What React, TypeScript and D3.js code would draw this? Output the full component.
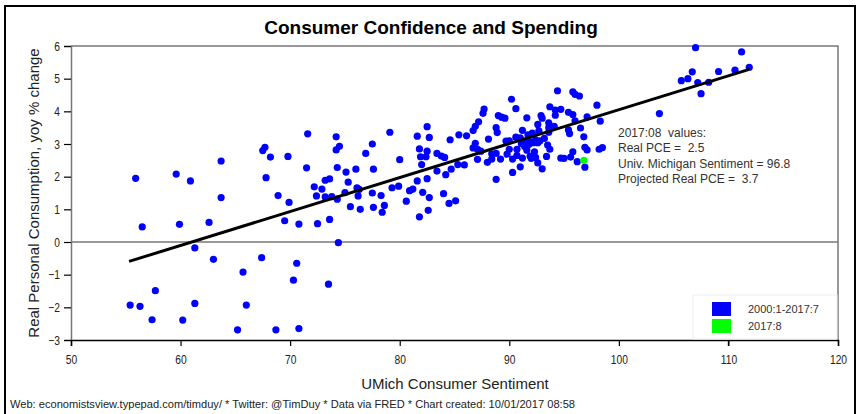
import { useEffect, useRef } from 'react'
import * as d3 from 'd3'

// UMich sentiment (x) vs real PCE yoy % change (y), 2000:1-2017:7
const sentiment = [
  55.9, 59.6, 60.9, 63.7, 67.5, 67.7, 68.2, 69.8, 71.6, 67.8, 71.5, 72.2, 72.4, 68.9, 69.9, 63.7,
  56.5, 59.9, 62.6, 69.5, 70.8, 72.5, 61.3, 63.0, 67.4, 65.7, 70.6, 70.3, 57.7, 55.4, 56.3, 61.3,
  66.0, 57.4, 60.2, 65.2, 68.7, 70.8, 73.6, 74.4, 73.5,
  72.9, 73.2, 73.6, 73.2, 73.8, 74.3, 74.2, 74.2, 74.5, 74.3, 75.1, 75.3, 75.0, 75.5, 76.0, 76.1,
  76.3, 76.2, 76.4, 76.9, 77.5, 77.6, 77.5, 77.6, 78.3, 78.6, 78.4, 79.1, 79.3, 79.9, 80.0, 80.6,
  80.9, 81.2, 81.6, 81.6, 81.8, 81.9, 82.0, 82.1, 82.5, 82.7, 82.5, 82.4, 82.5, 82.7, 82.6, 81.8,
  83.4, 83.4, 83.8, 84.1, 84.2, 84.0, 84.5, 85.1, 84.6, 85.4, 86.1, 84.7, 85.3, 85.9,
  94.4, 95.8, 96.0, 96.4, 90.2, 87.7, 87.6, 90.6, 93.7, 94.2, 94.7, 94.2, 95.4, 95.8, 97.1, 96.0,
  89.0, 89.3, 89.6, 87.2, 86.9, 86.7, 91.6, 92.9, 93.0, 88.8, 88.9, 92.6, 93.6, 93.6, 94.1, 91.2,
  92.1, 92.7, 93.6, 95.4, 95.5, 96.5, 96.8, 88.1, 90.6, 89.7, 90.0, 91.0, 91.7, 91.3, 91.8, 92.4,
  92.8, 93.2, 86.9, 86.7, 87.1, 87.4, 91.1, 91.4, 91.8, 92.2, 92.6, 93.5, 93.7, 90.0, 90.7, 91.6,
  92.3, 95.8, 96.9, 97.1, 88.4, 88.4, 88.8, 89.2, 89.8, 90.3, 90.7, 91.2, 91.9, 92.0, 92.4, 92.6,
  93.0, 93.4, 94.7, 95.0, 95.6, 96.2, 96.9, 91.0, 90.3, 88.8, 87.1, 88.0, 98.3, 98.2, 98.5,
  107.0, 111.2, 111.9, 110.6, 109.1, 106.7, 106.3, 105.7, 107.2, 108.2, 107.5, 103.7, 98.0,
]
const realPce = [
  1.95, 2.08, 1.87, 2.48, 2.8, 2.9, 2.6, 2.62, 3.31, 1.97, 2.27, 1.69, 1.41, 1.42, 1.21, 1.36,
  0.46, 0.54, 0.6, 0.65, 0.55, 0.56, -0.18, -0.53, -0.48, -0.92, -0.65, -1.17, -1.49, -1.93, -1.97, -1.88,
  -1.93, -2.38, -2.39, -2.69, -2.69, -2.65, 0.69, -0.02, -1.29,
  1.62, 1.89, 1.93, 1.38, 1.39, 1.31, 3.22, 2.82, 2.93, 2.28, 2.14, 1.83, 1.51, 1.08, 2.23, 1.66,
  1.61, 1.41, 1.0, 2.71, 3.0, 2.23, 1.5, 1.06, 1.42, 1.12, 0.91, 3.36, 1.66, 1.71, 2.52, 1.25,
  1.57, 1.62, 1.87, 3.24, 2.85, 2.61, 2.37, 1.52, 3.53, 3.2, 2.78, 2.61, 1.94, 1.36, 0.97, 0.77,
  2.71, 2.17, 2.63, 2.59, 2.06, 1.48, 1.18, 1.26, 3.13, 3.28, 3.25, 2.23, 2.37, 2.36,
  4.63, 4.6, 4.52, 4.47, 4.37, 4.07, 3.94, 4.08, 4.14, 4.04, 4.06, 3.88, 3.97, 3.9, 3.83, 3.71,
  3.87, 3.82, 3.79, 3.68, 3.54, 3.41, 3.8, 3.87, 3.79, 3.5, 3.35, 3.6, 3.65, 3.5, 3.54, 3.42,
  3.33, 3.4, 3.36, 3.43, 3.32, 3.49, 3.22, 3.15, 3.21, 3.09, 3.1, 3.19, 3.28, 3.07, 3.09, 3.13,
  3.1, 3.17, 3.02, 2.88, 2.84, 2.78, 3.01, 2.92, 2.99, 3.04, 3.04, 2.97, 2.84, 2.84, 2.84, 2.81,
  2.76, 2.76, 2.9, 2.82, 2.7, 2.54, 2.71, 2.54, 2.69, 2.54, 2.65, 2.57, 2.63, 2.56, 2.59, 2.42,
  2.24, 2.62, 2.57, 2.56, 2.6, 2.46, 2.29, 2.3, 2.13, 1.92, 2.53, 2.44, 3.7, 2.84, 2.89,
  5.95, 5.82, 5.35, 5.26, 5.22, 5.21, 5.0, 4.94, 4.88, 4.89, 4.54, 3.93, 4.19,
]

// latest month
const latest = { sentiment: 96.8, pce: 2.5, projected: 3.7 }

// fitted line
const fitIntercept = -6.34
const fitSlope = 0.1039
const fitRange = [55.3, 111.9]

const xTicks = [50, 60, 70, 80, 90, 100, 110, 120]
const yTicks = [-3, -2, -1, 0, 1, 2, 3, 4, 5, 6]

const annotation = [
  '2017:08  values:',
  `Real PCE =  ${latest.pce.toFixed(1)}`,
  `Univ. Michigan Sentiment = ${latest.sentiment.toFixed(1)}`,
  `Projected Real PCE =  ${latest.projected.toFixed(1)}`,
]
const legendItems = [
  { label: '2000:1-2017:7', color: '#0000ff' },
  { label: '2017:8', color: '#00ff00' },
]

const W = 862
const H = 414
const sans = '"Liberation Sans", Arial, sans-serif'

export default function App() {
  const svgRef = useRef<SVGSVGElement>(null)

  useEffect(() => {
    if (!svgRef.current) return
    const svg = d3.select(svgRef.current)
    svg.selectAll('*').remove()

    const x = d3.scaleLinear().domain([50, 120]).range([71, 838])
    const y = d3.scaleLinear().domain([-3, 6]).range([340, 46])

    svg.append('rect').attr('width', W).attr('height', H).attr('fill', '#fff')
    // outer frame
    svg.append('rect')
      .attr('x', 5).attr('y', 6).attr('width', 850).attr('height', 420)
      .attr('fill', 'none').attr('stroke', '#000').attr('stroke-width', 2)

    svg.append('text')
      .attr('x', 431).attr('y', 34)
      .attr('text-anchor', 'middle')
      .style('font-family', sans).style('font-weight', 'bold').style('font-size', '19px')
      .text('Consumer Confidence and Spending')

    // frame top / right
    svg.append('path')
      .attr('d', `M${x(50)},${y(6)}H${x(120)}V${y(-3)}`)
      .attr('fill', 'none').attr('stroke', '#777').attr('stroke-width', 1.5)

    // zero line
    svg.append('line')
      .attr('x1', x(50)).attr('x2', x(120)).attr('y1', y(0)).attr('y2', y(0))
      .attr('stroke', '#777').attr('stroke-width', 1.5)

    // narrow tick labels, like the original
    const squeeze = (sel: any, anchorX: boolean) => {
      sel.each(function (this: SVGTextElement) {
        const t = d3.select(this)
        const tx = anchorX ? 0 : +t.attr('x')
        t.attr('transform', `translate(${tx},0) scale(0.82,1) translate(${-tx},0)`)
      })
    }

    // y axis
    const yAxis = svg.append('g')
      .attr('transform', `translate(${x(50)},0)`)
      .call(d3.axisLeft(y).tickValues(yTicks).tickSize(7).tickPadding(4).tickFormat(d3.format('d')))
    yAxis.select('.domain').attr('stroke', '#777').attr('stroke-width', 1.5)
    yAxis.selectAll('.tick line').attr('stroke', '#000').attr('stroke-width', 1.2)
    yAxis.selectAll('.tick text')
      .style('font-family', sans).style('font-size', '12.5px').attr('fill', '#222')
    squeeze(yAxis.selectAll('.tick text'), false)

    // x axis
    const xAxis = svg.append('g')
      .attr('transform', `translate(0,${y(-3)})`)
      .call(d3.axisBottom(x).tickValues(xTicks).tickSize(6).tickPadding(9).tickFormat(d3.format('d')))
    xAxis.select('.domain').attr('stroke', '#000').attr('stroke-width', 1.5)
    xAxis.selectAll('.tick line').attr('stroke', '#000').attr('stroke-width', 1.2)
    xAxis.selectAll('.tick text')
      .style('font-family', sans).style('font-size', '12.5px').attr('fill', '#222')
    squeeze(xAxis.selectAll('.tick text'), true)

    // axis titles
    svg.append('text')
      .attr('x', 455).attr('y', 389).attr('text-anchor', 'middle')
      .style('font-family', sans).style('font-size', '15px').attr('fill', '#222')
      .text('UMich Consumer Sentiment')
    svg.append('text')
      .attr('transform', `translate(39,${(y(6) + y(-3)) / 2}) rotate(-90)`)
      .attr('text-anchor', 'middle')
      .style('font-family', sans).style('font-size', '15px').attr('fill', '#222')
      .text('Real Personal Consumption, yoy % change')

    // points
    const pts = sentiment.map((s, i) => ({ s, p: realPce[i] }))
    svg.append('g').selectAll('circle')
      .data(pts)
      .enter().append('circle')
      .attr('cx', d => x(d.s))
      .attr('cy', d => y(d.p))
      .attr('r', 3.6)
      .attr('fill', '#0000ff')

    // fitted line
    const line = d3.line<number>()
      .x(d => x(d))
      .y(d => y(fitIntercept + fitSlope * d))
    svg.append('path')
      .datum(fitRange)
      .attr('d', line)
      .attr('fill', 'none').attr('stroke', '#000').attr('stroke-width', 3)

    svg.append('circle')
      .attr('cx', x(latest.sentiment)).attr('cy', y(latest.pce))
      .attr('r', 3.6).attr('fill', '#00ff00')

    // annotation
    const ann = svg.append('text')
      .style('font-family', sans).style('font-size', '12px').style('white-space', 'pre')
      .attr('fill', '#333')
    annotation.forEach((t, i) => {
      ann.append('tspan').attr('x', 618).attr('y', 137 + i * 15.3).text(t)
    })

    // legend
    const lg = svg.append('g')
    lg.append('rect')
      .attr('x', 693).attr('y', 295).attr('width', 144).attr('height', 44)
      .attr('fill', '#fff').attr('stroke', '#eee').attr('stroke-width', 1)
    legendItems.forEach((it, i) => {
      lg.append('rect')
        .attr('x', 712).attr('y', 302 + i * 17).attr('width', 19).attr('height', 14)
        .attr('fill', it.color)
      lg.append('text')
        .attr('x', 748).attr('y', 313 + i * 17)
        .style('font-family', sans).style('font-size', '11px').attr('fill', '#333')
        .text(it.label)
    })
    // 110 tick shows under the legend
    svg.append('line')
      .attr('x1', x(110)).attr('x2', x(110)).attr('y1', 340).attr('y2', 346)
      .attr('stroke', '#000').attr('stroke-width', 1.2)

    svg.append('text')
      .attr('x', 10).attr('y', 408)
      .attr('textLength', 565).attr('lengthAdjust', 'spacingAndGlyphs')
      .style('font-family', sans).style('font-size', '11px').attr('fill', '#222')
      .text('Web: economistsview.typepad.com/timduy/ * Twitter: @TimDuy * Data via FRED * Chart created: 10/01/2017 08:58')
  }, [])

  return (
    <svg
      ref={svgRef}
      width={W}
      height={H}
      style={{ position: 'absolute', left: 0, top: 0, display: 'block' }}
    />
  )
}
